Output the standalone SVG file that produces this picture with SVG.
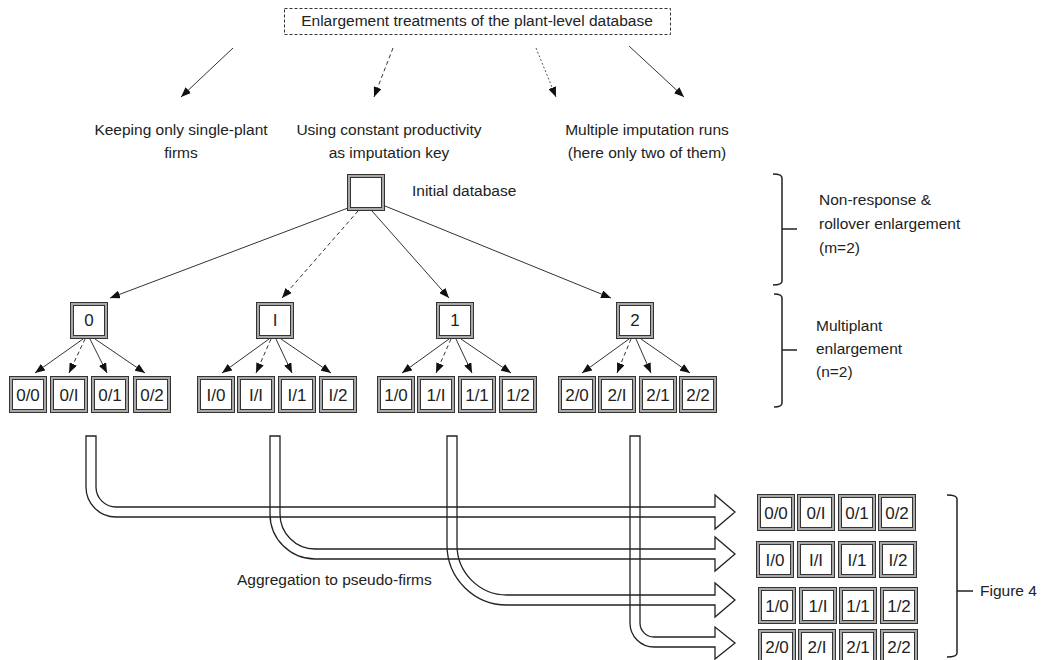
<svg xmlns="http://www.w3.org/2000/svg" xmlns:xlink="http://www.w3.org/1999/xlink" width="1051" height="660" viewBox="0 0 1051 660">
<style>
.t{font-family:"Liberation Sans",Arial,sans-serif;font-size:15.5px;fill:#222}
.m{text-anchor:middle}
.bt{font-family:"Liberation Sans",Arial,sans-serif;font-size:17px;fill:#222;text-anchor:middle}
.ln{stroke:#333;stroke-width:1;fill:none;marker-end:url(#ah)}
.dash{stroke-dasharray:4 3}
.dot{stroke-dasharray:2 2;stroke:#555}
.outer{fill:#a8a8a8;stroke:#333;stroke-width:1}
.inner{fill:#fff;stroke:#333;stroke-width:1}
.hol{fill:none;stroke:#222;stroke-width:1.3}
.br{fill:none;stroke:#222;stroke-width:1.5}
</style>
<defs>
<marker id="ah" markerWidth="10" markerHeight="8" refX="10" refY="4" orient="auto" markerUnits="userSpaceOnUse"><path d="M0,0 L10,4 L0,8 z" fill="#111"/></marker>
<g id="box"><rect x="0.5" y="0.5" width="37" height="36" class="outer"/><rect x="3.5" y="3.5" width="31" height="30" class="inner"/></g>
</defs>
<rect width="1051" height="660" fill="#fff"/>

<g id="top">
<rect x="284.5" y="8.5" width="386" height="26" fill="none" stroke="#333" stroke-dasharray="3 2"/>
<text class="t m" x="477" y="26">Enlargement treatments of the plant-level database</text>
</g>
<g id="opt1"><text class="t m" x="181" y="135">Keeping only single-plant</text><text class="t m" x="181" y="158">firms</text></g>
<g id="opt2"><text class="t m" x="389" y="135">Using constant productivity</text><text class="t m" x="389" y="158">as imputation key</text></g>
<g id="opt3"><text class="t m" x="647" y="135">Multiple imputation runs</text><text class="t m" x="647" y="158">(here only two of them)</text></g>

<g id="initial">
<use xlink:href="#box" x="347" y="174"/>
<text class="t" x="412" y="196">Initial database</text>
</g>

<g id="n0"><use xlink:href="#box" x="70" y="302"/><text class="bt" x="89" y="326">0</text></g>
<g id="nI"><use xlink:href="#box" x="256" y="302"/><text class="bt" x="275" y="326">I</text></g>
<g id="n1"><use xlink:href="#box" x="436" y="302"/><text class="bt" x="455" y="326">1</text></g>
<g id="n2"><use xlink:href="#box" x="616" y="302"/><text class="bt" x="635" y="326">2</text></g>

<g id="n00"><use xlink:href="#box" x="9" y="376"/><text class="bt" x="28" y="401">0/0</text></g>
<g id="n0I"><use xlink:href="#box" x="50" y="376"/><text class="bt" x="69" y="401">0/I</text></g>
<g id="n01"><use xlink:href="#box" x="91" y="376"/><text class="bt" x="110" y="401">0/1</text></g>
<g id="n02"><use xlink:href="#box" x="133" y="376"/><text class="bt" x="152" y="401">0/2</text></g>
<g id="nI0"><use xlink:href="#box" x="197" y="376"/><text class="bt" x="216" y="401">I/0</text></g>
<g id="nII"><use xlink:href="#box" x="237" y="376"/><text class="bt" x="256" y="401">I/I</text></g>
<g id="nI1"><use xlink:href="#box" x="278" y="376"/><text class="bt" x="297" y="401">I/1</text></g>
<g id="nI2"><use xlink:href="#box" x="319" y="376"/><text class="bt" x="338" y="401">I/2</text></g>
<g id="n10"><use xlink:href="#box" x="377" y="376"/><text class="bt" x="396" y="401">1/0</text></g>
<g id="n1I"><use xlink:href="#box" x="417" y="376"/><text class="bt" x="436" y="401">1/I</text></g>
<g id="n11"><use xlink:href="#box" x="458" y="376"/><text class="bt" x="477" y="401">1/1</text></g>
<g id="n12"><use xlink:href="#box" x="499" y="376"/><text class="bt" x="518" y="401">1/2</text></g>
<g id="n20"><use xlink:href="#box" x="558" y="376"/><text class="bt" x="577" y="401">2/0</text></g>
<g id="n2I"><use xlink:href="#box" x="598" y="376"/><text class="bt" x="617" y="401">2/I</text></g>
<g id="n21"><use xlink:href="#box" x="639" y="376"/><text class="bt" x="658" y="401">2/1</text></g>
<g id="n22"><use xlink:href="#box" x="679" y="376"/><text class="bt" x="698" y="401">2/2</text></g>

<g id="r1">
<use xlink:href="#box" x="757" y="494"/><text class="bt" x="776" y="519">0/0</text>
<use xlink:href="#box" x="797" y="494"/><text class="bt" x="816" y="519">0/I</text>
<use xlink:href="#box" x="838" y="494"/><text class="bt" x="857" y="519">0/1</text>
<use xlink:href="#box" x="878" y="494"/><text class="bt" x="897" y="519">0/2</text>
</g>
<g id="r2">
<use xlink:href="#box" x="756" y="541"/><text class="bt" x="775" y="566">I/0</text>
<use xlink:href="#box" x="797" y="541"/><text class="bt" x="816" y="566">I/I</text>
<use xlink:href="#box" x="838" y="541"/><text class="bt" x="857" y="566">I/1</text>
<use xlink:href="#box" x="879" y="541"/><text class="bt" x="898" y="566">I/2</text>
</g>
<g id="r3">
<use xlink:href="#box" x="758" y="587"/><text class="bt" x="777" y="612">1/0</text>
<use xlink:href="#box" x="799" y="587"/><text class="bt" x="818" y="612">1/I</text>
<use xlink:href="#box" x="839" y="587"/><text class="bt" x="858" y="612">1/1</text>
<use xlink:href="#box" x="880" y="587"/><text class="bt" x="899" y="612">1/2</text>
</g>
<g id="r4">
<use xlink:href="#box" x="758" y="629"/><text class="bt" x="777" y="653">2/0</text>
<use xlink:href="#box" x="798" y="629"/><text class="bt" x="817" y="653">2/I</text>
<use xlink:href="#box" x="839" y="629"/><text class="bt" x="858" y="653">2/1</text>
<use xlink:href="#box" x="880" y="629"/><text class="bt" x="899" y="653">2/2</text>
</g>

<g id="labels">
<text class="t" x="819" y="205">Non-response &amp;</text>
<text class="t" x="819" y="229">rollover enlargement</text>
<text class="t" x="819" y="253">(m=2)</text>
<text class="t" x="816" y="331">Multiplant</text>
<text class="t" x="816" y="354">enlargement</text>
<text class="t" x="816" y="377">(n=2)</text>
<text class="t" x="980" y="596">Figure 4</text>
<text class="t" x="237" y="585">Aggregation to pseudo-firms</text>
</g>

<g id="connectors">
<line class="ln" x1="233" y1="48" x2="181" y2="97"/>
<line class="ln dash" x1="393" y1="48" x2="374" y2="97"/>
<line class="ln dot" x1="536" y1="48" x2="556" y2="97"/>
<line class="ln" x1="629" y1="46" x2="684" y2="97"/>

<line class="ln" x1="348" y1="208" x2="110" y2="298"/>
<line class="ln dash" x1="358" y1="211" x2="282" y2="298"/>
<line class="ln" x1="372" y1="211" x2="449" y2="298"/>
<line class="ln" x1="385" y1="206" x2="611" y2="298"/>

<line class="ln" x1="83" y1="339" x2="35" y2="373"/>
<line class="ln dash" x1="85" y1="339" x2="69" y2="373"/>
<line class="ln" x1="90" y1="339" x2="107" y2="373"/>
<line class="ln" x1="95" y1="339" x2="145" y2="373"/>

<line class="ln" x1="269" y1="339" x2="222" y2="373"/>
<line class="ln dash" x1="271" y1="339" x2="256" y2="373"/>
<line class="ln" x1="276" y1="339" x2="292" y2="373"/>
<line class="ln" x1="281" y1="339" x2="331" y2="373"/>

<line class="ln" x1="449" y1="339" x2="402" y2="373"/>
<line class="ln dash" x1="451" y1="339" x2="436" y2="373"/>
<line class="ln" x1="456" y1="339" x2="472" y2="373"/>
<line class="ln" x1="461" y1="339" x2="511" y2="373"/>

<line class="ln" x1="629" y1="339" x2="582" y2="373"/>
<line class="ln dash" x1="631" y1="339" x2="617" y2="373"/>
<line class="ln" x1="636" y1="339" x2="651" y2="373"/>
<line class="ln" x1="641" y1="339" x2="690" y2="373"/>

<path class="hol" d="M86,436 V487 A30,30 0 0 0 116,517 H715 V529 L735,512 L715,495 V507 H116 A20,20 0 0 1 96,487 V436 Z"/>
<path class="hol" d="M270,436 V514 A45,45 0 0 0 315,559 H715 V571 L735,554 L715,537 V549 H315 A35,35 0 0 1 280,514 V436 Z"/>
<path class="hol" d="M447,436 V545 A60,60 0 0 0 507,605 H715 V617 L735,600 L715,583 V595 H507 A50,50 0 0 1 457,545 V436 Z"/>
<path class="hol" d="M630,436 V623 A24,24 0 0 0 654,647 H715 V659 L735,643 L715,627 V637 H654 A14,14 0 0 1 640,623 V436 Z"/>

<path class="br" d="M773,174 Q782,174 782,178 V281 Q782,285 773,285 M782,229 H797"/>
<path class="br" d="M774,294 Q782,294 782,298 V403 Q782,407 774,407 M782,350 H797"/>
<path class="br" d="M947,495 Q957,495 957,499 V653 Q957,657 947,657 M957,591 H973"/>
</g>
</svg>
